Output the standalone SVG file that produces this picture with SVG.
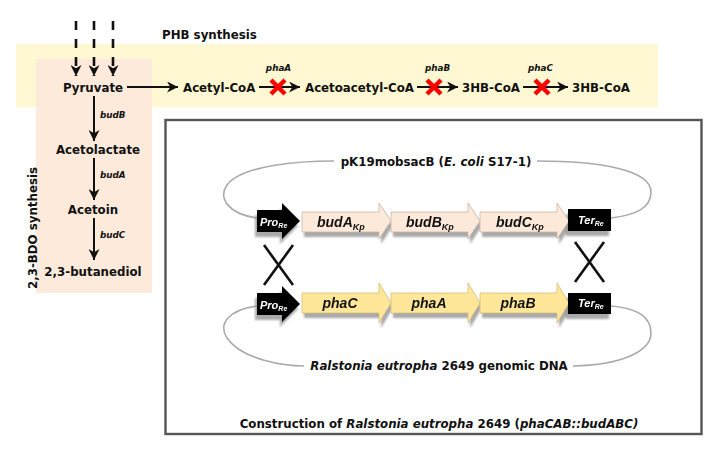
<svg xmlns="http://www.w3.org/2000/svg" width="716" height="453" viewBox="0 0 716 453">
<defs>
<style>
.t{font-family:"DejaVu Sans",Verdana,sans-serif;font-weight:bold;font-size:11.8px;fill:#111}
.e{font-family:"DejaVu Sans",Verdana,sans-serif;font-weight:bold;font-style:italic;font-size:8.8px;fill:#111}
.g{font-family:"Liberation Sans",Arial,sans-serif;font-weight:bold;font-style:italic;font-size:14px;fill:#111}
.gs{font-size:9px}
.w{font-family:"Liberation Sans",Arial,sans-serif;font-weight:bold;font-style:italic;font-size:11px;fill:#fff}
.ws{font-size:7px}
.ln{stroke:#111;stroke-width:2;fill:none}
.dl{stroke:#111;stroke-width:2.6;fill:none;stroke-dasharray:9 9}
.rx{stroke:#f00;stroke-width:4.5;stroke-linecap:butt}
.cx{stroke:#111;stroke-width:2.6}
.loop{stroke:#aaa;stroke-width:1.6;fill:none}
.bud{fill:#fde9d9;stroke:#c8b6a8;stroke-width:0.8}
.pha{fill:#ffe699;stroke:#d4c07a;stroke-width:0.8}
.blk{fill:#000}
.sh{fill:#8c8c8c;opacity:0.75}
</style>
<marker id="ah" viewBox="0 0 10 10" markerUnits="userSpaceOnUse" markerWidth="11" markerHeight="11" refX="10" refY="5" orient="auto">
<path d="M0,0 L10,5 L0,10 L3,5 z" fill="#111"/>
</marker>
<filter id="bl" x="-10%" y="-20%" width="120%" height="140%"><feGaussianBlur stdDeviation="1"/></filter>
</defs>

<rect x="16" y="44" width="642" height="63" fill="#fff8d2"/>
<rect x="36" y="59" width="116" height="234" fill="#fdeadb"/>
<text class="t" x="162" y="39">PHB synthesis</text>
<text class="t" transform="translate(37,228) rotate(-90)" text-anchor="middle">2,3-BDO synthesis</text>

<rect x="165.5" y="120" width="536" height="314" fill="none" stroke="#555" stroke-width="2.4"/>

<g id="connectors">
<line class="dl" x1="76" y1="21" x2="76" y2="76" marker-end="url(#ah)"/>
<line class="dl" x1="94" y1="21" x2="94" y2="76" marker-end="url(#ah)"/>
<line class="dl" x1="113" y1="21" x2="113" y2="76" marker-end="url(#ah)"/>
<line class="ln" x1="127" y1="87" x2="178" y2="87" marker-end="url(#ah)"/>
<line class="ln" x1="259" y1="87" x2="300" y2="87" marker-end="url(#ah)"/>
<line class="ln" x1="417" y1="87" x2="458" y2="87" marker-end="url(#ah)"/>
<line class="ln" x1="523" y1="87" x2="568" y2="87" marker-end="url(#ah)"/>
<line class="ln" x1="94" y1="96" x2="94" y2="141" marker-end="url(#ah)"/>
<line class="ln" x1="94" y1="158" x2="94" y2="200" marker-end="url(#ah)"/>
<line class="ln" x1="94" y1="218" x2="94" y2="260" marker-end="url(#ah)"/>
<g id="knockouts">
<line class="rx" x1="271" y1="80" x2="285" y2="94"/><line class="rx" x1="285" y1="80" x2="271" y2="94"/>
<line class="rx" x1="427" y1="80" x2="441" y2="94"/><line class="rx" x1="441" y1="80" x2="427" y2="94"/>
<line class="rx" x1="535" y1="80" x2="549" y2="94"/><line class="rx" x1="549" y1="80" x2="535" y2="94"/>
</g>
<path class="loop" d="M257,218 C228,214 218,198 227,185 C242,165 300,161 334,161"/>
<path class="loop" d="M537,161 C600,161 651,170 651,192 C651,208 636,215 611,218"/>
<path class="loop" d="M257,306 C228,310 218,324 227,338 C242,360 285,366 304,366"/>
<path class="loop" d="M573,366 C620,365 651,352 651,333 C651,316 636,308 611,306"/>
<g id="crossovers">
<line class="cx" x1="264" y1="245" x2="293" y2="285"/><line class="cx" x1="293" y1="245" x2="264" y2="285"/>
<line class="cx" x1="575" y1="242" x2="604" y2="282"/><line class="cx" x1="604" y1="242" x2="575" y2="282"/>
</g>
</g>

<g id="n-pyruvate"><text class="t" x="93" y="91.5" text-anchor="middle">Pyruvate</text></g>
<g id="n-acetylcoa"><text class="t" x="183" y="91.5">Acetyl-CoA</text></g>
<g id="n-acetoacetylcoa"><text class="t" x="305" y="91.5">Acetoacetyl-CoA</text></g>
<g id="n-3hbcoa1"><text class="t" x="462" y="91.5">3HB-CoA</text></g>
<g id="n-3hbcoa2"><text class="t" x="572" y="91.5">3HB-CoA</text></g>
<g id="enzyme-labels">
<text class="e" x="278.5" y="71" text-anchor="middle">phaA</text>
<text class="e" x="437.5" y="71" text-anchor="middle">phaB</text>
<text class="e" x="540.5" y="71" text-anchor="middle">phaC</text>
<text class="e" x="100" y="118">budB</text>
<text class="e" x="100" y="178">budA</text>
<text class="e" x="100" y="238">budC</text>
</g>
<g id="n-acetolactate"><text class="t" x="98" y="154" text-anchor="middle">Acetolactate</text></g>
<g id="n-acetoin"><text class="t" x="93" y="214" text-anchor="middle">Acetoin</text></g>
<g id="n-butanediol"><text class="t" x="93" y="276" text-anchor="middle">2,3-butanediol</text></g>

<g id="n-plasmid-label"><text class="t" x="436" y="166" text-anchor="middle">pK19mobsacB (<tspan font-style="italic">E. coli</tspan> S17-1)</text></g>
<g id="n-genome-label"><text class="t" x="439" y="370" text-anchor="middle"><tspan font-style="italic">Ralstonia eutropha</tspan> 2649 genomic DNA</text></g>
<g id="n-title"><text class="t" x="439" y="428" text-anchor="middle">Construction of <tspan font-style="italic">Ralstonia eutropha</tspan> 2649 (<tspan font-style="italic">phaCAB::budABC)</tspan></text></g>

<g id="shadows" filter="url(#bl)">
<polygon class="sh" points="255,215 280,215 280,208 298,226 280,244 280,237 255,237"/>
<polygon class="sh" points="304,217 381,217 381,208 393,226 381,244 381,237 304,237"/>
<polygon class="sh" points="393,217 470,217 470,208 482,226 470,244 470,237 393,237"/>
<polygon class="sh" points="482,217 559,217 559,208 571,226 559,244 559,237 482,237"/>
<rect class="sh" x="566" y="214" width="43" height="22"/>
<polygon class="sh" points="255,298 280,298 280,291 298,309 280,327 280,320 255,320"/>
<polygon class="sh" points="304,298 381,298 381,288 393,308 381,328 381,318 304,318"/>
<polygon class="sh" points="393,298 470,298 470,288 482,308 470,328 470,318 393,318"/>
<polygon class="sh" points="482,298 559,298 559,288 571,308 559,328 559,318 482,318"/>
<rect class="sh" x="566" y="298" width="43" height="21"/>
</g>

<g id="n-pro-up"><polygon class="blk" points="257,210 282,210 282,203 300,221 282,239 282,232 257,232"/><text class="w" x="260" y="226">Pro<tspan class="ws" dy="2">Re</tspan></text></g>
<g id="n-budA"><polygon class="bud" points="302,212 379,212 379,203 391,221 379,239 379,232 302,232"/><text class="g" x="317" y="227">budA<tspan class="gs" dy="3">Kp</tspan></text></g>
<g id="n-budB"><polygon class="bud" points="391,212 468,212 468,203 480,221 468,239 468,232 391,232"/><text class="g" x="406" y="227">budB<tspan class="gs" dy="3">Kp</tspan></text></g>
<g id="n-budC"><polygon class="bud" points="480,212 557,212 557,203 569,221 557,239 557,232 480,232"/><text class="g" x="496" y="227">budC<tspan class="gs" dy="3">Kp</tspan></text></g>
<g id="n-ter-up"><rect class="blk" x="568" y="209" width="43" height="22"/><text class="w" x="578" y="224">Ter<tspan class="ws" dy="2">Re</tspan></text></g>

<g id="n-pro-down"><polygon class="blk" points="257,293 282,293 282,286 300,304 282,322 282,315 257,315"/><text class="w" x="260" y="309">Pro<tspan class="ws" dy="2">Re</tspan></text></g>
<g id="n-phaC"><polygon class="pha" points="302,293 379,293 379,283 391,303 379,323 379,313 302,313"/><text class="g" x="340" y="308" text-anchor="middle">phaC</text></g>
<g id="n-phaA"><polygon class="pha" points="391,293 468,293 468,283 480,303 468,323 468,313 391,313"/><text class="g" x="429" y="308" text-anchor="middle">phaA</text></g>
<g id="n-phaB"><polygon class="pha" points="480,293 557,293 557,283 569,303 557,323 557,313 480,313"/><text class="g" x="518" y="308" text-anchor="middle">phaB</text></g>
<g id="n-ter-down"><rect class="blk" x="568" y="293" width="43" height="21"/><text class="w" x="578" y="307">Ter<tspan class="ws" dy="2">Re</tspan></text></g>
</svg>
